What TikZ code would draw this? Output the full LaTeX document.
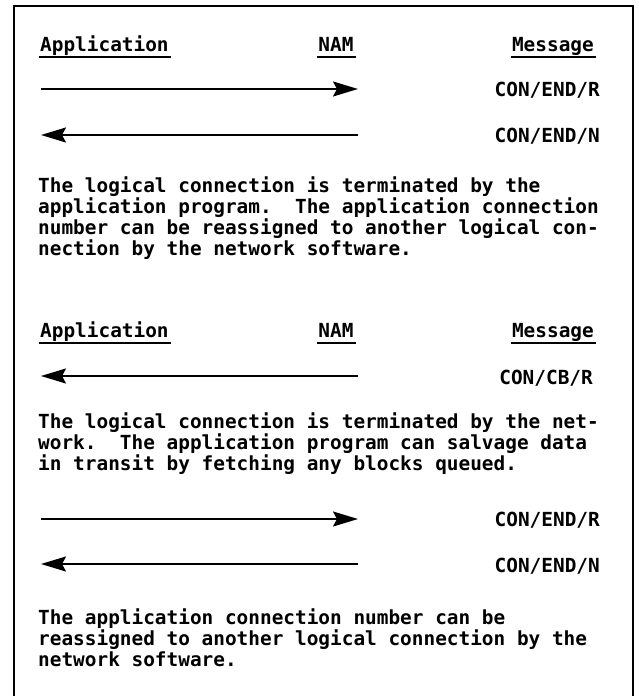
\documentclass[tikz,border=0pt]{standalone}
\usepackage{fontspec}
\newfontfamily\scanfont{DejaVu Sans Mono}[BoldFont={DejaVu Sans Mono Bold}]
\usetikzlibrary{arrows.meta}

\begin{document}
\begin{tikzpicture}[x=1pt, y=-1pt, font=\scanfont\bfseries\fontsize{19.4}{21}\selectfont\frenchspacing]
	\tikzstyle{heading}=[inner sep=0pt, text depth=5pt, anchor=base west]
	\tikzstyle{msgname}=[inner sep=0pt, anchor=base east]
	\tikzstyle{para}=[inner sep=0pt, anchor=north west, align=left]
	\tikzstyle{flow}=[line width=2pt, -{Stealth[length=25pt, width=15pt, inset=4pt]}]
	\tikzstyle{rule}=[line width=2pt]

	\useasboundingbox (0,0) rectangle (639,696);

	% Frame
	\draw[line width=2pt] (14,696) -- (14,6) -- (633,6) -- (633,696);

	% Column headings
	\foreach \h/\y in {1/51, 2/337} {
		\node[heading] (app-\h) at (40,\y) {Application};
		\node[heading, anchor=base] (nam-\h) at (336,\y) {NAM};
		\node[heading, anchor=base east] (msg-\h) at (594,\y) {Message};
		\foreach \col in {app, nam, msg}
		\draw[rule] ([xshift=-1pt, yshift=-1pt]\col-\h.south west) -- ([xshift=2pt, yshift=-1pt]\col-\h.south east);
	}

	% Arrow ends
	\foreach \r/\y in {1/89, 2/135, 3/376, 4/519, 5/564} {
		\coordinate (app-end-\r) at (41,\y);
		\coordinate (nam-end-\r) at (358,\y);
	}

	% Messages
	\node[msgname] (m-1) at (600,96) {CON/END/R};
	\node[msgname] (m-2) at (600,142) {CON/END/N};
	\node[msgname] (m-3) at (593,384) {CON/CB/R};
	\node[msgname] (m-4) at (600,526) {CON/END/R};
	\node[msgname] (m-5) at (600,572) {CON/END/N};

	\draw[flow] (app-end-1) -- (nam-end-1);
	\draw[flow] (nam-end-2) -- (app-end-2);
	\draw[flow] (nam-end-3) -- (app-end-3);
	\draw[flow] (app-end-4) -- (nam-end-4);
	\draw[flow] (nam-end-5) -- (app-end-5);

	% Notes
	\node[para] (p-1) at (38,177) {The logical connection is terminated by the\\
		application program.~ The application connection\\
		number can be reassigned to another logical con-\\
		nection by the network software.};
	\node[para] (p-2) at (38,413) {The logical connection is terminated by the net-\\
		work.~ The application program can salvage data\\
		in transit by fetching any blocks queued.};
	\node[para] (p-3) at (38,609) {The application connection number can be\\
		reassigned to another logical connection by the\\
		network software.};
\end{tikzpicture}
\end{document}
